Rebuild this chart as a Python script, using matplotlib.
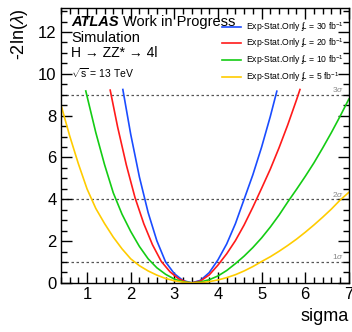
import numpy as np
import matplotlib
matplotlib.use("Agg")
import matplotlib.pyplot as plt
from matplotlib.ticker import MultipleLocator

plt.rcParams['font.family'] = ['Liberation Sans', 'DejaVu Sans']
plt.rcParams['mathtext.fontset'] = 'custom'
plt.rcParams['mathtext.rm'] = 'Liberation Sans'
plt.rcParams['mathtext.it'] = 'Liberation Sans:italic'

# -2ln(lambda) scans vs sigma
x_30 = [1.82, 2.0, 2.2, 2.4, 2.6, 2.8, 3.0, 3.2, 3.4, 3.6, 3.8, 4.0, 4.2, 4.4, 4.6, 4.8, 5.0, 5.2, 5.35]
y_30 = [9.25, 7.11, 5.06, 3.36, 2.01, 1.0, 0.44, 0.11, 0.0, 0.12, 0.49, 1.10, 1.86, 2.83, 4.0, 5.17, 6.49, 7.96, 9.17]

x_20 = [1.53, 1.7, 1.9, 2.1, 2.3, 2.5, 2.7, 2.9, 3.1, 3.3, 3.4, 3.6, 3.8, 4.0, 4.2, 4.4, 4.6, 4.8, 5.0, 5.2, 5.4, 5.6, 5.8, 5.88]
y_20 = [9.22, 7.46, 5.64, 4.07, 2.83, 1.82, 1.03, 0.53, 0.19, 0.02, 0.0, 0.09, 0.38, 0.85, 1.39, 2.02, 2.77, 3.62, 4.52, 5.44, 6.46, 7.56, 8.75, 9.25]

x_10 = [0.97, 1.2, 1.4, 1.6, 1.8, 2.0, 2.2, 2.4, 2.6, 2.8, 3.0, 3.2, 3.4, 3.6, 3.8, 4.0, 4.2, 4.4, 4.6, 4.8,
        5.0, 5.2, 5.4, 5.6, 5.8, 6.0, 6.2, 6.4, 6.6, 6.8, 7.0]
y_10 = [9.18, 7.19, 5.66, 4.31, 3.29, 2.46, 1.74, 1.15, 0.72, 0.41, 0.18, 0.05, 0.0, 0.04, 0.15, 0.33, 0.59, 0.92, 1.28, 1.69,
        2.15, 2.67, 3.24, 3.87, 4.47, 5.09, 5.74, 6.45, 7.19, 7.97, 8.79]

x_5 = [0.4, 0.6, 0.8, 1.0, 1.2, 1.4, 1.6, 1.8, 2.0, 2.2, 2.4, 2.6, 2.8, 3.0, 3.2, 3.42, 3.6, 3.8, 4.0, 4.2,
       4.4, 4.6, 4.8, 5.0, 5.2, 5.4, 5.6, 5.8, 6.0, 6.2, 6.4, 6.6, 6.8, 7.0]
y_5 = [8.53, 7.04, 5.70, 4.49, 3.56, 2.84, 2.19, 1.63, 1.15, 0.82, 0.57, 0.37, 0.21, 0.10, 0.03, 0.0, 0.01, 0.06, 0.14, 0.25,
       0.39, 0.57, 0.78, 1.02, 1.25, 1.51, 1.79, 2.09, 2.42, 2.77, 3.14, 3.53, 3.96, 4.33]

lumis = [30, 20, 10, 5]
colors = ['#1a4cff', '#ff1a1a', '#14cc14', '#ffcc00']
sig_levels = [1, 4, 9]
sig_labels = ['1$\\sigma$', '2$\\sigma$', '3$\\sigma$']

fig = plt.figure(figsize=(3.52, 3.32), dpi=100)
ax = fig.add_axes([0.173, 0.148, 0.818, 0.828])

curves = [(x_30, y_30), (x_20, y_20), (x_10, y_10), (x_5, y_5)]
handles = []
for (xs, ys), lumi, c in zip(curves, lumis, colors):
    h, = ax.plot(xs, ys, color=c, lw=1.2,
                 label='Exp-Stat.Only $\\int\\!\\!L$ = %d fb$^{-1}$' % lumi)
    handles.append(h)

for lev, lab in zip(sig_levels, sig_labels):
    ax.axhline(lev, color='#555555', lw=0.9, ls=(0, (2, 2)), zorder=0)
    ax.text(6.62, lev + 0.12, lab, fontsize=6, color='#888888')

ax.set_xlim(0.4, 7.0)
ax.set_ylim(0, 13.15)
ax.xaxis.set_major_locator(MultipleLocator(1))
ax.xaxis.set_minor_locator(MultipleLocator(0.2))
ax.yaxis.set_major_locator(MultipleLocator(2))
ax.yaxis.set_minor_locator(MultipleLocator(0.5))
ax.tick_params(which='both', direction='in', top=True, right=True, width=1.0, labelsize=12, pad=3)
ax.tick_params(which='major', length=8)
ax.tick_params(which='minor', length=4)
for s in ax.spines.values():
    s.set_linewidth(1.0)

ax.set_xlabel('sigma', fontsize=13, loc='right', labelpad=4)
ax.set_ylabel('-2ln($\\lambda$)', fontsize=13, loc='top', labelpad=6)

ax.text(0.035, 0.935, 'ATLAS', transform=ax.transAxes, fontsize=10.5,
        fontweight='bold', style='italic')
ax.text(0.215, 0.935, 'Work in Progress', transform=ax.transAxes, fontsize=10.5)
ax.text(0.035, 0.875, 'Simulation', transform=ax.transAxes, fontsize=10.5)
ax.text(0.035, 0.823, 'H \u2192 ZZ* \u2192 4l', transform=ax.transAxes, fontsize=10)
ax.text(0.035, 0.745, '$\\sqrt{\\mathrm{s}}$ = 13 TeV', transform=ax.transAxes, fontsize=7.5)

leg = ax.legend(handles=handles, loc='upper right', bbox_to_anchor=(1.0, 0.975), frameon=False,
                fontsize=6.2, handlelength=2.2, handletextpad=0.5, labelspacing=0.35, borderaxespad=0.2)
leg.set_zorder(5)

fig.savefig('out.png', dpi=100)
